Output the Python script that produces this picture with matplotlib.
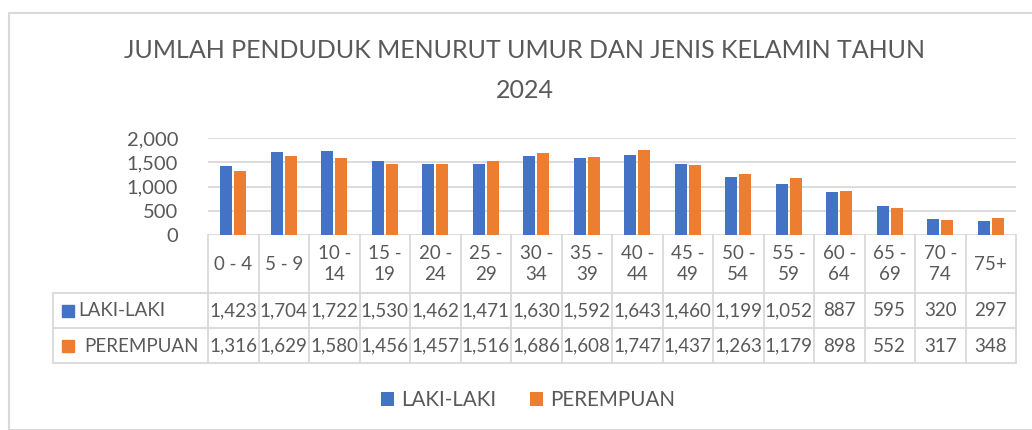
import matplotlib
matplotlib.use("Agg")
import matplotlib.pyplot as plt
from matplotlib.transforms import blended_transform_factory
from matplotlib.patches import Rectangle
import numpy as np

plt.rcParams['font.family'] = ['Lato', 'DejaVu Sans']

## data
kelompok = ["0 - 4", "5 - 9", "10 -\n14", "15 -\n19", "20 -\n24", "25 -\n29",
            "30 -\n34", "35 -\n39", "40 -\n44", "45 -\n49", "50 -\n54", "55 -\n59",
            "60 -\n64", "65 -\n69", "70 -\n74", "75+"]
laki = [1423, 1704, 1722, 1530, 1462, 1471, 1630, 1592, 1643, 1460, 1199, 1052, 887, 595, 320, 297]
perempuan = [1316, 1629, 1580, 1456, 1457, 1516, 1686, 1608, 1747, 1437, 1263, 1179, 898, 552, 317, 348]
seri = ["LAKI-LAKI", "PEREMPUAN"]
yticks = [0, 500, 1000, 1500, 2000]

biru = "#4472C4"
oranye = "#ED7D31"
abu = "#595959"
garis = "#D9D9D9"

W, H = 1032, 430
fig = plt.figure(figsize=(W / 100, H / 100), dpi=100)

def fx(p):
    return p / W

def fy(p):
    return 1 - p / H

# bingkai chart
fig.patches.append(Rectangle((fx(9), 0), fx(W + 10), fy(13), transform=fig.transFigure,
                             fill=False, edgecolor=garis, linewidth=1.5))

ax = fig.add_axes([fx(208), fy(235), fx(1016 - 208), fy(138) - fy(235)])
x = np.arange(len(kelompok))
ax.bar(x - 0.14, laki, width=0.24, color=biru, label=seri[0], zorder=3)
ax.bar(x + 0.14, perempuan, width=0.24, color=oranye, label=seri[1], zorder=3)
ax.set_xlim(-0.5, len(kelompok) - 0.5)
ax.set_ylim(0, 2000)
ax.set_yticks(yticks)
ax.set_yticklabels([f"{v:,}" for v in yticks], fontsize=14.5, color=abu)
ax.tick_params(axis="y", length=0, pad=21.5)
ax.set_xticks([])
ax.grid(axis="y", color=garis, linewidth=1.3, zorder=0)
for s in ax.spines.values():
    s.set_visible(False)

# judul
fig.text(fx(525), fy(50), "JUMLAH PENDUDUK MENURUT UMUR DAN JENIS KELAMIN TAHUN",
         ha="center", va="center", fontsize=18, color=abu)
fig.text(fx(525), fy(90), "2024", ha="center", va="center", fontsize=18, color=abu)

# tabel data
tr = blended_transform_factory(ax.transData, fig.transFigure)
kw = dict(color=garis, linewidth=1.3, clip_on=False)
n = len(kelompok)
for i in range(n + 1):
    ax.plot([i - 0.5, i - 0.5], [fy(235), fy(363)], transform=tr, **kw)
for yp in [293, 328, 363]:
    fig.add_artist(plt.Line2D([fx(53), fx(1016)], [fy(yp), fy(yp)], **kw))
fig.add_artist(plt.Line2D([fx(53), fx(53)], [fy(293), fy(363)], **kw))

for i in range(n):
    ax.text(i, fy(264), kelompok[i], transform=tr, ha="center", va="center",
            fontsize=13.5, color=abu, linespacing=1.25)
    ax.text(i, fy(311), f"{laki[i]:,}", transform=tr, ha="center", va="center",
            fontsize=13.5, color=abu)
    ax.text(i, fy(346), f"{perempuan[i]:,}", transform=tr, ha="center", va="center",
            fontsize=13.5, color=abu)

for yp, warna, teks, xt in [(311, biru, seri[0], 78), (346, oranye, seri[1], 84)]:
    fig.patches.append(Rectangle((fx(62), fy(yp + 6)), fx(12), fy(yp - 6) - fy(yp + 6),
                                 transform=fig.transFigure, color=warna))
    fig.text(fx(xt), fy(yp), teks, ha="left", va="center", fontsize=13.5, color=abu)

# legenda
fig.legend(loc="center", bbox_to_anchor=(fx(528), fy(400)), ncol=2, frameon=False,
           fontsize=14.8, labelcolor=abu, handlelength=0.65, handleheight=0.65,
           columnspacing=1.6, handletextpad=0.35)

fig.savefig("out.png", dpi=100)
